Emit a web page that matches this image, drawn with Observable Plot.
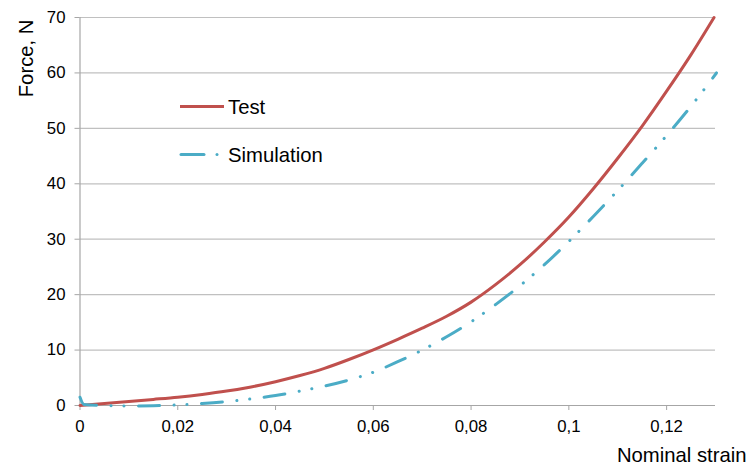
<!DOCTYPE html>
<html>
<head>
<meta charset="utf-8">
<script src="https://cdn.jsdelivr.net/npm/d3@7"></script>
<script src="https://cdn.jsdelivr.net/npm/@observablehq/plot@0.6"></script>
<style>
  html, body { margin: 0; padding: 0; background: #fff; }
  #wrap { position: relative; width: 751px; height: 466px; font-family: "Liberation Sans", Arial, sans-serif; }
  #wrap svg, #wrap text { font-family: "Liberation Sans", Arial, sans-serif !important; }
  #legend { position: absolute; left: 0; top: 0; width: 751px; height: 466px; pointer-events: none; }
</style>
</head>
<body>
<div id="wrap"></div>
<script>
// Test curve (Nominal strain, Force N)
const testStrain = [0, 0.005, 0.01, 0.015, 0.02, 0.025, 0.03, 0.035, 0.04, 0.045, 0.05, 0.055, 0.06, 0.065, 0.07, 0.075, 0.08, 0.085, 0.09, 0.095, 0.1, 0.105, 0.11, 0.115, 0.12, 0.125, 0.1297];
const testForce  = [0, 0.35, 0.72, 1.1, 1.5, 2.0, 2.6, 3.35, 4.3, 5.4, 6.7, 8.3, 10.05, 11.95, 13.95, 16.1, 18.65, 21.8, 25.4, 29.5, 34.0, 39.1, 44.6, 50.4, 56.7, 63.3, 70];
// Simulation curve
const simStrain = [0, 0.0008, 0.005, 0.01, 0.015, 0.02, 0.025, 0.03, 0.035, 0.04, 0.045, 0.05, 0.055, 0.06, 0.065, 0.07, 0.075, 0.08, 0.085, 0.09, 0.095, 0.1, 0.105, 0.11, 0.115, 0.12, 0.125, 0.1302];
const simForce  = [1.5, 0.2, 0, -0.1, -0.05, 0.1, 0.35, 0.7, 1.2, 1.8, 2.6, 3.5, 4.6, 6.0, 7.9, 10.0, 12.4, 15.1, 18.2, 21.6, 25.4, 29.6, 34.1, 38.8, 43.7, 48.7, 54.0, 60];
// Axis ticks
const xTicks = [0, 0.02, 0.04, 0.06, 0.08, 0.1, 0.12];
const yTicks = [0, 10, 20, 30, 40, 50, 60, 70];
const seriesNames = ["Test", "Simulation"];
const seriesColors = ["#c0504d", "#4bacc6"];
const xLabel = "Nominal strain";
const yLabel = "Force, N";

const FONT = "Liberation Sans, Arial, sans-serif";
const TITLE_SIZE = 20.3;
const testData = testStrain.map((x, i) => ({x, y: testForce[i]}));
const simData = simStrain.map((x, i) => ({x, y: simForce[i]}));
const fmt = d => d === 0 ? "0" : String(+d.toFixed(2)).replace(".", ",");
const simDash = "21,14.5,0.1,12.8,0.1,14.5";

const plot = Plot.plot({
  width: 751,
  height: 466,
  marginLeft: 79.5,
  marginRight: 36,
  marginTop: 17,
  marginBottom: 61,
  style: {fontFamily: FONT, fontSize: "16.5px", color: "#000", background: "#fff"},
  x: {domain: [0, 0.13]},
  y: {domain: [0, 70]},
  marks: [
    Plot.gridY(yTicks.filter(d => d > 0), {stroke: "#c0c0c0", strokeOpacity: 1, strokeWidth: 1.2}),
    Plot.ruleY([0], {stroke: "#a6a6a6", strokeWidth: 1.2}),
    Plot.ruleX([0], {stroke: "#a6a6a6", strokeWidth: 1.2}),
    Plot.axisX({ticks: xTicks, tickSize: 5, tickPadding: 10, tickFormat: fmt, label: null, stroke: "#a6a6a6", fill: "#000", fontFamily: FONT, fontSize: 16.8}),
    Plot.axisY({ticks: yTicks, tickSize: 5, tickPadding: 9.5, tickFormat: d => String(d), label: null, stroke: "#a6a6a6", fill: "#000", fontFamily: FONT, fontSize: 16.8}),
    Plot.line(testData, {x: "x", y: "y", stroke: seriesColors[0], strokeWidth: 3, curve: "monotone-x"}),
    Plot.line(simData, {x: "x", y: "y", stroke: seriesColors[1], strokeWidth: 3, strokeDasharray: simDash, strokeLinecap: "round", curve: "monotone-x"}),
    Plot.text([xLabel], {frameAnchor: "bottom-right", dx: 31, dy: 56, textAnchor: "end", lineAnchor: "bottom", fontSize: TITLE_SIZE, fontFamily: FONT, fill: "#000"}),
    Plot.text([yLabel], {frameAnchor: "top-left", dx: -47.5, dy: 2, rotate: -90, textAnchor: "end", lineAnchor: "bottom", fontSize: TITLE_SIZE, fontFamily: FONT, fill: "#000"})
  ]
});

const wrap = document.getElementById("wrap");
wrap.appendChild(plot);

// Legend overlay
const ns = "http://www.w3.org/2000/svg";
const leg = document.createElementNS(ns, "svg");
leg.setAttribute("id", "legend");
leg.setAttribute("width", 751);
leg.setAttribute("height", 466);
const legRows = [
  {name: seriesNames[0], color: seriesColors[0], y: 106.5, dash: false},
  {name: seriesNames[1], color: seriesColors[1], y: 154.5, dash: true}
];
legRows.forEach(r => {
  if (r.dash) {
    const l1 = document.createElementNS(ns, "line");
    l1.setAttribute("x1", 181); l1.setAttribute("x2", 204);
    l1.setAttribute("y1", r.y); l1.setAttribute("y2", r.y);
    l1.setAttribute("stroke", r.color); l1.setAttribute("stroke-width", 3); l1.setAttribute("stroke-linecap", "round");
    leg.appendChild(l1);
    const c = document.createElementNS(ns, "circle");
    c.setAttribute("cx", 217); c.setAttribute("cy", r.y); c.setAttribute("r", 1.5);
    c.setAttribute("fill", r.color);
    leg.appendChild(c);
  } else {
    const l = document.createElementNS(ns, "line");
    l.setAttribute("x1", 180); l.setAttribute("x2", 224);
    l.setAttribute("y1", r.y); l.setAttribute("y2", r.y);
    l.setAttribute("stroke", r.color); l.setAttribute("stroke-width", 3);
    leg.appendChild(l);
  }
  const t = document.createElementNS(ns, "text");
  t.setAttribute("x", 228); t.setAttribute("y", r.y + 7);
  t.setAttribute("font-size", TITLE_SIZE + "px");
  t.setAttribute("font-family", FONT);
  t.setAttribute("fill", "#000");
  t.textContent = r.name;
  leg.appendChild(t);
});
wrap.appendChild(leg);
</script>
</body>
</html>
